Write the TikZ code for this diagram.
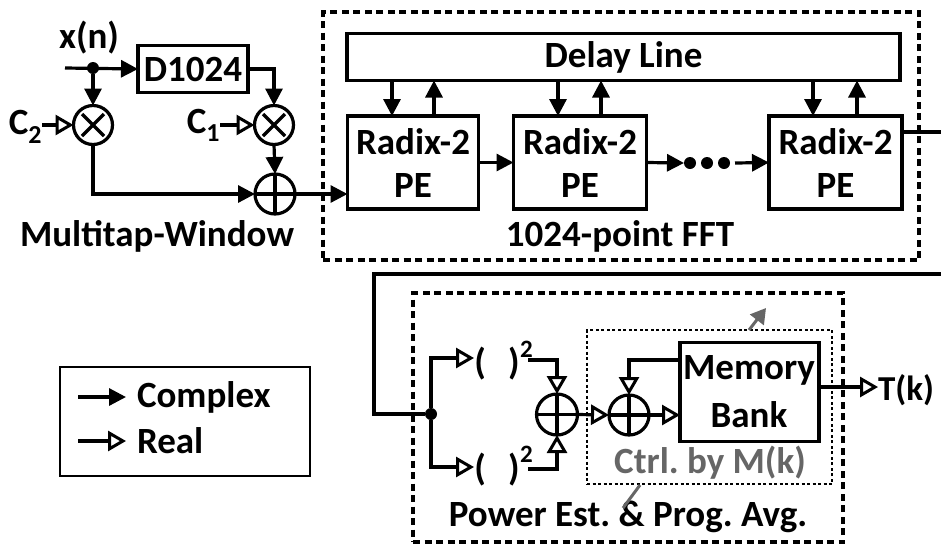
\documentclass[tikz,border=0pt]{standalone}
\usepackage{fontspec}
\setmainfont{Carlito}
\frenchspacing
\usetikzlibrary{arrows.meta,calc}
\definecolor{ctrlgray}{HTML}{666666}
\tikzset{
  x=1pt,y=-1pt,
  wire/.style={line width=3.2pt,draw=black,line join=miter},
  sol/.style={wire,-{Triangle[length=17pt,width=17pt]}},
  opn/.style={wire,-{Triangle[open,length=18pt,width=20pt,fill=white,line width=3pt]}},
  blk/.style={draw=black,line width=3.4pt,inner sep=0pt,outer sep=0pt,align=center,font=\fontsize{37}{39}\selectfont\bfseries},
  lbl/.style={inner sep=0pt,outer sep=0pt,font=\fontsize{37}{39}\selectfont\bfseries},
  dbox/.style={draw=black,line width=3.2pt,dash pattern=on 7pt off 4.5pt},
  dot/.style={circle,fill=black,inner sep=0pt,minimum size=12pt,outer sep=0pt},
  mulop/.style={circle,draw=black,line width=3.2pt,minimum size=39pt,inner sep=0pt,outer sep=0pt,
    path picture={\draw[line width=3.2pt] ($(path picture bounding box.center)+(-11,-11)$)--($(path picture bounding box.center)+(11,11)$) ($(path picture bounding box.center)+(-11,11)$)--($(path picture bounding box.center)+(11,-11)$);}},
  addop/.style={circle,draw=black,line width=3.2pt,minimum size=40pt,inner sep=0pt,outer sep=0pt,
    path picture={\draw[line width=3.2pt] (path picture bounding box.north)--(path picture bounding box.south) (path picture bounding box.west)--(path picture bounding box.east);}},
}
\begin{document}
\begin{tikzpicture}
\useasboundingbox (0,0) rectangle (941,547);
% dashed frames
\node[dbox,minimum width=596pt,minimum height=248pt,inner sep=0pt] (fftframe) at (621,136) {};
\node[dbox,minimum width=430pt,minimum height=249pt,inner sep=0pt] (powframe) at (628,417.5) {};
\node[draw=black,line width=1.6pt,dash pattern=on 3pt off 2.5pt,minimum width=245pt,minimum height=154pt,inner sep=0pt] (ctrlframe) at (709.5,407) {};
% multitap window
\coordinate (xin) at (65,68);
\node[lbl] (xn) at (89,38) {x(n)};
\node[blk,minimum width=110pt,minimum height=47pt] (d1024) at (193,69) {D1024};
\node[dot] (xdot) at (93,68) {};
\node[mulop] (m1) at (93,125) {};
\node[mulop] (m2) at (274,125) {};
\node[addop] (a1) at (275,194) {};
\node[lbl,anchor=east] (c2) at (42,127) {C\textsubscript{2}};
\node[lbl,anchor=east] (c1) at (220,125) {C\textsubscript{1}};
\node[lbl] (mw) at (157,236) {Multitap-Window};
\draw[sol] (xin) -- (d1024.west);
\draw[sol] (xdot) -- (m1.north);
\draw[sol] (d1024.east) -| (m2.north);
\draw[opn] (c2.east |- m1.west) -- (m1.west);
\draw[opn] (c1.east |- m2.west) -- (m2.west);
\draw[sol] (m2.south) -- (a1.north);
\draw[sol] (m1.south) |- (a1.west);
% FFT
\node[blk,minimum width=553pt,minimum height=47pt] (delay) at (623.5,57) {Delay Line};
\node[blk,minimum width=131pt,minimum height=93pt] (r1) at (413,162.5) {};
\node[blk,minimum width=133pt,minimum height=93pt] (r2) at (580,162.5) {};
\node[blk,minimum width=133pt,minimum height=93pt] (r3) at (835.5,162.5) {};
\foreach \r in {r1,r2,r3}{
  \node[lbl] (\r t) at ($(\r.center)+(0,-21)$) {Radix-2};
  \node[lbl] (\r b) at ($(\r.center)+(0,23)$) {PE};
}
\node[lbl] (ffttitle) at (620,236) {1024-point FFT};
\draw[sol] (a1.east) -- (r1.west |- a1.east);
\coordinate (r1d) at (392,116); \coordinate (r1u) at (434,116);
\coordinate (r2d) at (558,116); \coordinate (r2u) at (601,116);
\coordinate (r3d) at (813,116); \coordinate (r3u) at (857,116);
\foreach \n in {r1,r2,r3}{
  \draw[sol] (delay.south -| \n d) -- (\n d);
  \draw[sol] (\n u) -- (delay.south -| \n u);
}
\draw[sol] (r1.east) -- (r2.west);
\node[dot] (e1) at (690,163) {};
\node[dot] (e2) at (707,163) {};
\node[dot] (e3) at (724,163) {};
\coordinate (e0) at (735,163);
\draw[sol] (r2.east) -- (e1.west);
\draw[sol] (e0) -- (r3.west);
% feedback
\coordinate (outa) at (941,132);
\coordinate (outb) at (941,274);
\draw[wire] (r3.east |- outa) -- (outa);
\node[dot] (sdot) at (431,414) {};
\draw[wire] (outb) -- (374,274) |- (sdot);
% power estimator
\node[lbl] (p1) at (497,364) {(\hspace{0.6em})};
\node[lbl] (p2) at (497,470) {(\hspace{0.6em})};
\node[inner sep=0pt,font=\fontsize{25}{25}\selectfont\bfseries] (s1) at (526.5,349) {2};
\node[inner sep=0pt,font=\fontsize{25}{25}\selectfont\bfseries] (s2) at (526.5,454) {2};
\coordinate (p1in) at (474,358);
\coordinate (p2in) at (474,467);
\draw[opn] (sdot) |- (p1in);
\draw[opn] (sdot) |- (p2in);
\node[addop,minimum size=41pt] (a2) at (557,414.5) {};
\node[addop,minimum size=40pt] (a3) at (629,415) {};
\node[blk,minimum width=139pt,minimum height=99pt] (mem) at (749.5,392) {};
\node[lbl] (memt) at (749,370) {Memory};
\node[lbl] (memb) at (749,415) {Bank};
\coordinate (s1o) at (528,360);
\coordinate (s2o) at (528,469);
\coordinate (memfb) at (680,360);
\draw[opn] (s1o) -| (a2.north);
\draw[opn] (s2o) -| (a2.south);
\draw[opn] (a2.east) -- (a3.west);
\draw[opn] (a3.east) -- (mem.west |- a3.east);
\draw[opn] (memfb) -| (a3.north);
\node[lbl,font=\fontsize{35}{37}\selectfont\bfseries] (tk) at (906,390) {T(k)};
\coordinate (memo) at (819,387);
\draw[opn] (memo) -- (tk.west |- memo);
\node[lbl,text=ctrlgray] (ctl) at (710,463) {Ctrl. by M(k)};
\node[lbl] (pw) at (628,517) {Power Est. \& Prog. Avg.};
\coordinate (g1) at (623,508);
\coordinate (g2) at (640,485);
\coordinate (g3) at (749,330);
\coordinate (g4) at (766,308);
\draw[ctrlgray,line width=3pt] (g1) -- (g2);
\draw[ctrlgray,line width=3pt,-{Triangle[length=15pt,width=17pt]}] (g3) -- (g4);
% legend
\node[draw=black,line width=1.5pt,minimum width=250pt,minimum height=109pt,inner sep=0pt] (leg) at (185,421.5) {};
\node[lbl,anchor=west] (lc) at (137,397) {Complex};
\node[lbl,anchor=west] (lr) at (137,441) {Real};
\coordinate (l1a) at (78,397);
\coordinate (l1b) at (126,397);
\coordinate (l2a) at (78,441);
\coordinate (l2b) at (126,441);
\draw[sol] (l1a) -- (l1b);
\draw[opn] (l2a) -- (l2b);
\end{tikzpicture}
\end{document}
